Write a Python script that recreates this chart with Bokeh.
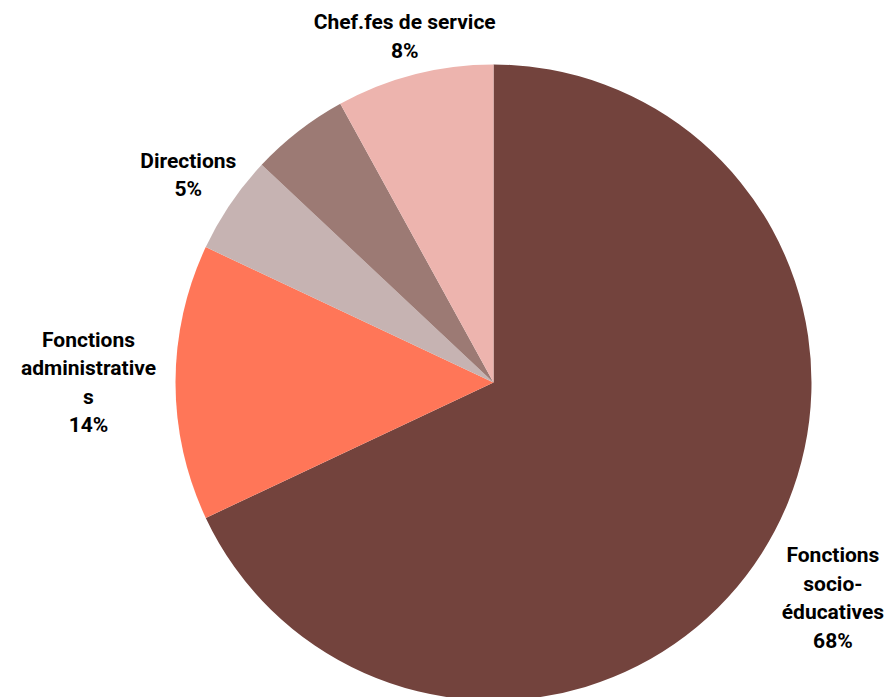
import math
from bokeh.plotting import figure
from bokeh.models import Range1d, ColumnDataSource
from bokeh.core.properties import value
from bokeh.embed import file_html
from bokeh.resources import INLINE

categories = ["Fonctions\nsocio-\néducatives", "Fonctions\nadministrative\ns", "Directions", "Autres", "Chef.fes de service"]
shares = [68, 14, 5, 5, 8]
show_label = [True, True, True, False, True]
colors = ["#73433D", "#FF7658", "#C6B3B2", "#9C7A74", "#EDB4AE"]
label_dist = [402, 405, 369, 369, 357]

W, H = 889, 697
cx, cy = 493, H - 382
R = 318

p = figure(width=W, height=H, output_backend="svg", toolbar_location=None,
           x_range=Range1d(0, W), y_range=Range1d(0, H), min_border=0)
p.axis.visible = False
p.grid.visible = False
p.outline_line_color = None
p.background_fill_color = "white"

total = sum(shares)
starts, ends, lx, ly, ltxt = [], [], [], [], []
acc = 0.0
for i, s in enumerate(shares):
    t0 = acc / total * 2 * math.pi
    acc += s
    t1 = acc / total * 2 * math.pi
    starts.append(math.pi / 2 - t0)
    ends.append(math.pi / 2 - t1)
    tm = (t0 + t1) / 2
    if show_label[i]:
        lx.append(cx + label_dist[i] * math.sin(tm))
        ly.append(cy + label_dist[i] * math.cos(tm))
        ltxt.append(f"{categories[i]}\n{s}%")

src = ColumnDataSource(dict(start=starts, end=ends, color=colors))
p.wedge(x=cx, y=cy, radius=R, radius_units="screen", start_angle="start", end_angle="end",
        direction="clock", fill_color="color", line_color=None, source=src)

p.text(x=lx, y=ly, text=ltxt, text_font=value("Roboto"), text_font_style="bold",
       text_font_size="21px", text_align="center", text_baseline="middle", text_line_height=1.19,
       text_color="#000000")

open("out.html", "w").write(file_html(p, INLINE))
